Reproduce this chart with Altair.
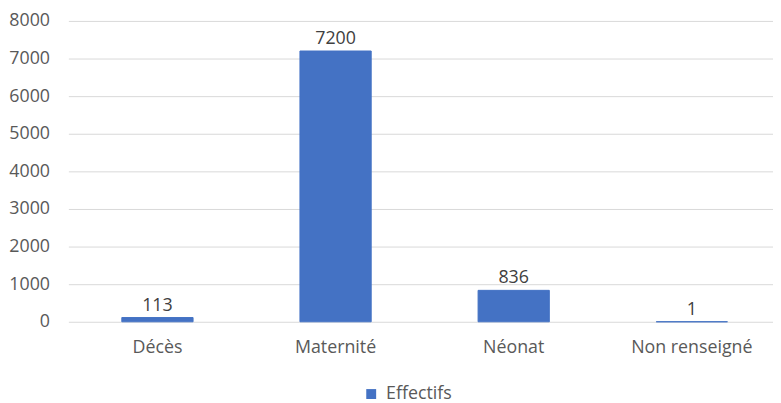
import altair as alt
import pandas as pd

categories = ["Décès", "Maternité", "Néonat", "Non renseigné"]
values = [113, 7200, 836, 1]
series = ["Effectifs"] * 4
y_ticks = [0, 1000, 2000, 3000, 4000, 5000, 6000, 7000, 8000]

df = pd.DataFrame({"cat": categories, "val": values, "serie": series})

FONT = "Open Sans"
GREY = "#595959"

base = alt.Chart(df).encode(
    x=alt.X("cat:N", sort=categories, title=None,
            scale=alt.Scale(paddingInner=0.6, paddingOuter=0.2778, align=0.54),
            axis=alt.Axis(labelAngle=0, domain=False, ticks=False, labelPadding=17,
                          labelFont=FONT, labelFontSize=18, labelColor=GREY, grid=False)),
    y=alt.Y("val:Q", title=None,
            scale=alt.Scale(domain=[0, 8000], nice=False),
            axis=alt.Axis(values=y_ticks, format="d", domain=False, ticks=False, labelPadding=19,
                          labelFont=FONT, labelFontSize=18, labelColor=GREY,
                          gridColor="#d9d9d9", gridWidth=1)),
)

bars = base.mark_bar(color="#4472C4", stroke="#4472C4", strokeWidth=1).encode(
    color=alt.Color("serie:N", scale=alt.Scale(range=["#4472C4"]), title=None,
                    legend=alt.Legend(orient="none", legendX=297, legendY=368,
                                      symbolType="square", symbolSize=100,
                                      labelFont=FONT, labelFontSize=18, labelColor=GREY,
                                      labelOffset=6, symbolStrokeWidth=0))
)
labels = base.mark_text(baseline="alphabetic", dy=-7, font=FONT, fontSize=18, color="#404040").encode(
    text="val:Q"
)

chart = (bars + labels).properties(
    width=712, height=304,
    padding={"left": 61, "top": 11, "right": 0, "bottom": 80},
    autosize=alt.AutoSizeParams(type="none"),
).configure_view(stroke=None)

chart.save("out.html", embed_options={"renderer": "svg", "actions": False})
